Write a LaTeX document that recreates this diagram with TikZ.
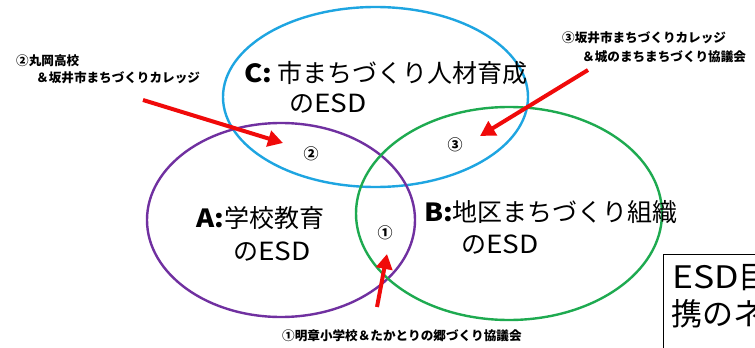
\documentclass[tikz,border=0pt]{standalone}
\usepackage{fontspec}
\setmainfont{Noto Sans CJK JP}
\newfontfamily\jp{Noto Sans CJK JP}
\usetikzlibrary{shapes.geometric,arrows.meta}
\definecolor{cblue}{RGB}{30,165,225}
\definecolor{cpurple}{RGB}{112,48,160}
\definecolor{cgreen}{RGB}{30,170,80}
\definecolor{cred}{RGB}{240,10,10}
\newcommand{\wESD}{\scalebox{1.12}[1]{ESD}}
\tikzset{
  setbox/.style={ellipse,draw,line width=2.4pt,inner sep=0pt},
  biglbl/.style={anchor=west,inner sep=0pt,font=\jp\fontsize{25}{30}\selectfont},
  smalllbl/.style={anchor=west,inner sep=0pt,font=\jp\bfseries\fontsize{12.6}{14}\selectfont},
  numlbl/.style={inner sep=0pt,font=\jp\bfseries\fontsize{15}{16}\selectfont},
  redarrow/.style={draw=cred,line width=4pt,-{Triangle[length=15pt,width=16pt]}},
  boxtxt/.style={anchor=west,inner sep=0pt,font=\jp\fontsize{31}{34}\selectfont},
}
\begin{document}
\begin{tikzpicture}[x=1pt,y=-1pt]
\clip (0,0) rectangle (755,348);
\fill[white] (0,0) rectangle (755,348);
% ellipses
\node[setbox,draw=cblue,minimum width=305pt,minimum height=180pt] (C) at (375.5,97) {};
\node[setbox,draw=cpurple,minimum width=268pt,minimum height=194pt] (A) at (281,220) {};
\node[setbox,draw=cgreen,minimum width=306pt,minimum height=213pt] (B) at (509,213.5) {};
% main labels
\node[biglbl] (C1) at (244,73) {\scalebox{1.1}[1]{\textbf{C:}} 市まちづくり人材育成};
\node[biglbl] (C2) at (289,104) {の\wESD};
\node[biglbl] (A1) at (196,218) {\scalebox{1.1}[1]{\textbf{A:}}学校教育};
\node[biglbl] (A2) at (233,252) {の\wESD};
\node[biglbl] (B1) at (424,212) {\scalebox{1.1}[1]{\textbf{B:}}地区まちづくり組織};
\node[biglbl] (B2) at (461,245) {の\wESD};
% circled numbers
\node[numlbl] (n2) at (311,154) {②};
\node[numlbl] (n3) at (455,145) {③};
\node[numlbl] (n1) at (385,233) {①};
% side labels
\node[smalllbl] (L2a) at (16,61) {②丸岡高校};
\node[smalllbl] (L2b) at (36,78) {＆坂井市まちづくりカレッジ};
\node[smalllbl] (L3a) at (562,38) {③坂井市まちづくりカレッジ};
\node[smalllbl] (L3b) at (582,57) {＆城のまちまちづくり協議会};
\node[smalllbl] (L1) at (282,336) {①明章小学校＆たかとりの郷づくり協議会};
% arrows
\coordinate (t2) at (143,100);
\coordinate (h2) at (283,143);
\coordinate (t3) at (588,70);
\coordinate (h3) at (480,136);
\coordinate (t1) at (377,307);
\coordinate (h1) at (387,254);
\draw[redarrow] (t2) -- (h2);
\draw[redarrow] (t3) -- (h3);
\draw[redarrow] (t1) -- (h1);
% clipped box at bottom right
\node[draw,line width=1.3pt,anchor=north west,minimum width=140pt,minimum height=120pt,inner sep=0pt] (box) at (663,254) {};
\node[boxtxt] (bt1) at (672,278) {\scalebox{1.15}[1]{ESD}目};
\node[boxtxt] (bt2) at (671,314) {携のネ};
\end{tikzpicture}
\end{document}
